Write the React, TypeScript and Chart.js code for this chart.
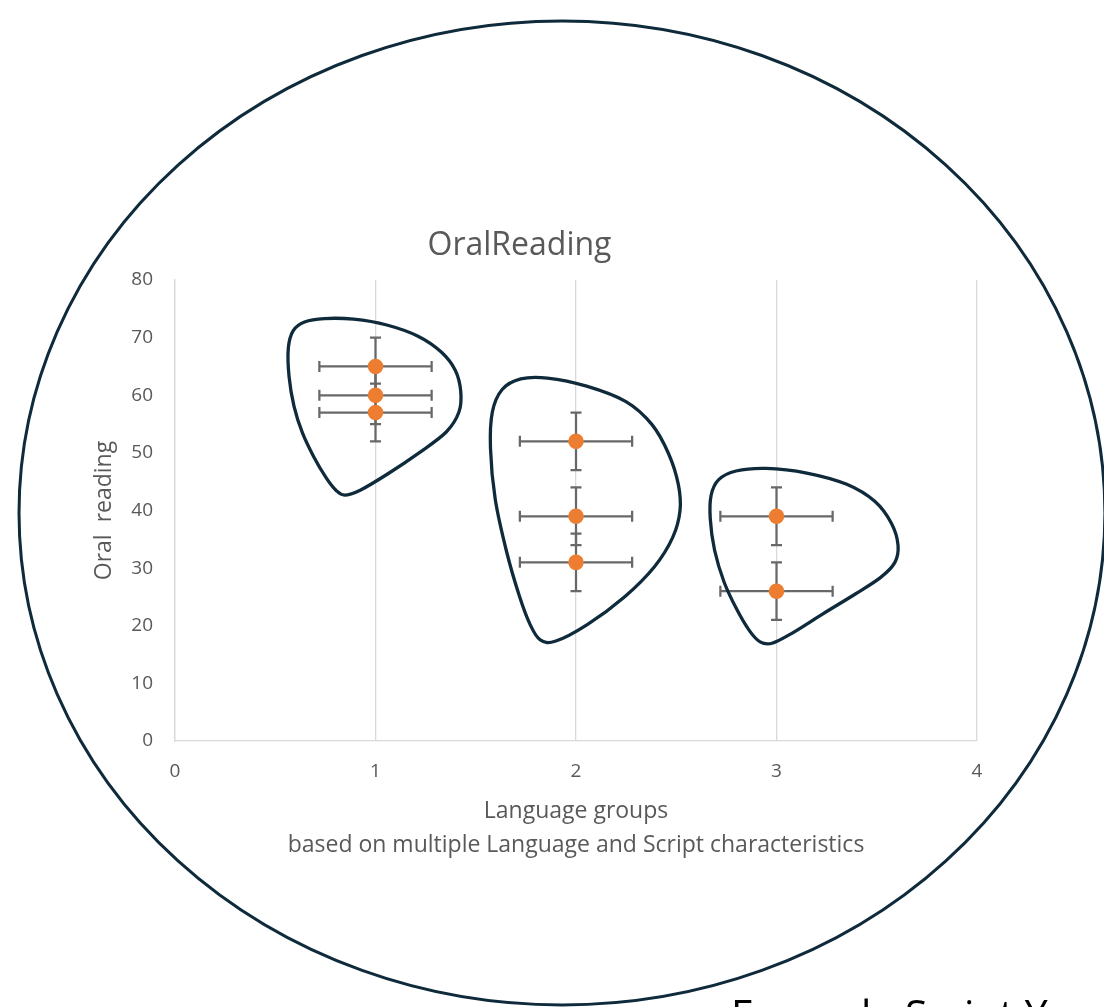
import { useEffect, useRef } from "react";
import { Chart, registerables } from "chart.js";

Chart.register(...registerables);

// ---- data ----
const groups = [1, 1, 1, 2, 2, 2, 3, 3];
const oralReading = [65, 60, 57, 52, 39, 31, 39, 26];
const xError = [0.28, 0.28, 0.28, 0.28, 0.28, 0.28, 0.28, 0.28];
const yError = [5, 5, 5, 5, 5, 5, 5, 5];

const chartTitle = "OralReading";
const xTitle = ["Language groups", "based on multiple Language and Script characteristics"];
const yTitle = "Oral  reading";
const noteText = "Example Script Y";

// annotation outlines (data units)
const blob1X = [0.565, 0.559, 0.584, 0.638, 0.733, 0.888, 1.057, 1.222, 1.337, 1.407, 1.431, 1.426, 1.372, 1.222, 1.057, 0.908, 0.838, 0.806, 0.757, 0.69, 0.632, 0.59];
const blob1Y = [63.22, 68.72, 71.5, 72.89, 73.41, 73.41, 72.37, 70.46, 67.51, 64.56, 60.56, 57.09, 53.62, 50.15, 46.16, 43.04, 42.34, 43.33, 45.29, 49.34, 53.4, 58.01];
const blob2X = [1.568, 1.575, 1.621, 1.721, 1.837, 2.053, 2.269, 2.386, 2.469, 2.519, 2.527, 2.494, 2.403, 2.253, 2.053, 1.869, 1.82, 1.771, 1.721, 1.654, 1.588];
const blob2Y = [51.66, 57.44, 61.48, 63.12, 63.34, 61.78, 59.18, 55.13, 49.93, 44.13, 40.09, 35.45, 30.25, 25.04, 19.83, 16.49, 17.23, 19.83, 24.47, 32.57, 41.82];
const blob3X = [2.665, 2.668, 2.702, 2.785, 2.934, 3.151, 3.367, 3.5, 3.583, 3.616, 3.6, 3.533, 3.4, 3.233, 3.067, 2.968, 2.918, 2.868, 2.802, 2.735, 2.685];
const blob3Y = [38.92, 42.98, 45.59, 47.03, 47.6, 46.73, 44.72, 41.82, 37.78, 33.72, 30.84, 28.51, 25.63, 22.16, 18.39, 16.49, 16.95, 18.69, 22.73, 27.37, 33.15];
const ringCenter = [1.93, 39.57];
const ringRadius = [2.708, 85.38];

const TEXT = "#595959";
const GRID = "#d9d9d9";
const INK = "#0e2a3b";
const FONT = "'Open Sans'";

function drawBlob(ctx: CanvasRenderingContext2D, xs: number[], ys: number[], sx: any, sy: any) {
  const raw = xs.map((x, i) => [sx.getPixelForValue(x), sy.getPixelForValue(ys[i])]);
  const n = raw.length;
  // light smoothing of the hand-traced outline
  const pts = raw.map((p, i) => {
    const a = raw[(i - 1 + n) % n];
    const b = raw[(i + 1) % n];
    return [0.2 * a[0] + 0.6 * p[0] + 0.2 * b[0], 0.2 * a[1] + 0.6 * p[1] + 0.2 * b[1]];
  });
  ctx.beginPath();
  ctx.moveTo(pts[0][0], pts[0][1]);
  for (let i = 0; i < n; i++) {
    const p0 = pts[(i - 1 + n) % n];
    const p1 = pts[i];
    const p2 = pts[(i + 1) % n];
    const p3 = pts[(i + 2) % n];
    const c1x = p1[0] + (p2[0] - p0[0]) / 6;
    const c1y = p1[1] + (p2[1] - p0[1]) / 6;
    const c2x = p2[0] - (p3[0] - p1[0]) / 6;
    const c2y = p2[1] - (p3[1] - p1[1]) / 6;
    ctx.bezierCurveTo(c1x, c1y, c2x, c2y, p2[0], p2[1]);
  }
  ctx.closePath();
  ctx.stroke();
}

const errorBarPlugin = {
  id: "errorBars",
  beforeDatasetsDraw(chart: any) {
    const { ctx } = chart;
    const sx = chart.scales.x;
    const sy = chart.scales.y;
    ctx.save();
    ctx.strokeStyle = "#686868";
    ctx.lineWidth = 2.25;
    const cap = 5.5;
    groups.forEach((g, i) => {
      const v = oralReading[i];
      const px = sx.getPixelForValue(g);
      const py = sy.getPixelForValue(v);
      const x0 = sx.getPixelForValue(g - xError[i]);
      const x1 = sx.getPixelForValue(g + xError[i]);
      const y0 = sy.getPixelForValue(v - yError[i]);
      const y1 = sy.getPixelForValue(v + yError[i]);
      ctx.beginPath();
      ctx.moveTo(x0, py); ctx.lineTo(x1, py);
      ctx.moveTo(x0, py - cap); ctx.lineTo(x0, py + cap);
      ctx.moveTo(x1, py - cap); ctx.lineTo(x1, py + cap);
      ctx.moveTo(px, y0); ctx.lineTo(px, y1);
      ctx.moveTo(px - cap, y0); ctx.lineTo(px + cap, y0);
      ctx.moveTo(px - cap, y1); ctx.lineTo(px + cap, y1);
      ctx.stroke();
    });
    ctx.restore();
  },
};

const decorPlugin = {
  id: "decor",
  afterDraw(chart: any) {
    const { ctx } = chart;
    const sx = chart.scales.x;
    const sy = chart.scales.y;
    ctx.save();
    ctx.strokeStyle = INK;
    ctx.lineJoin = "round";
    ctx.lineWidth = 3.3;
    drawBlob(ctx, blob1X, blob1Y, sx, sy);
    drawBlob(ctx, blob2X, blob2Y, sx, sy);
    drawBlob(ctx, blob3X, blob3Y, sx, sy);

    // big ring
    const cx = sx.getPixelForValue(ringCenter[0]);
    const cy = sy.getPixelForValue(ringCenter[1]);
    const rx = Math.abs(sx.getPixelForValue(ringCenter[0] + ringRadius[0]) - cx);
    const ry = Math.abs(sy.getPixelForValue(ringCenter[1] + ringRadius[1]) - cy);
    ctx.lineWidth = 3;
    ctx.beginPath();
    ctx.ellipse(cx, cy, rx, ry, 0, 0, Math.PI * 2);
    ctx.stroke();

    // chart title
    ctx.fillStyle = TEXT;
    ctx.font = `32px ${FONT}`;
    ctx.textAlign = "center";
    ctx.textBaseline = "middle";
    ctx.fillText(chartTitle, 519.5, 246);

    // note text at bottom
    ctx.fillStyle = "#000000";
    ctx.font = `41px ${FONT}`;
    ctx.textAlign = "left";
    ctx.textBaseline = "alphabetic";
    ctx.fillText(noteText, 731, 1029);
    ctx.restore();
  },
};

export default function App() {
  const ref = useRef<HTMLCanvasElement | null>(null);

  useEffect(() => {
    document.body.style.margin = "0";
    document.body.style.overflow = "hidden";
    const canvas = ref.current;
    if (!canvas) return;
    const chart = new Chart(canvas, {
      type: "scatter",
      data: {
        datasets: [
          {
            label: "OralReading",
            data: groups.map((g, i) => ({ x: g, y: oralReading[i] })),
            backgroundColor: "#ED7D31",
            borderColor: "#ED7D31",
            borderWidth: 0,
            pointRadius: 7.8,
            pointHoverRadius: 7.8,
          },
        ],
      },
      options: {
        animation: false,
        responsive: false,
        devicePixelRatio: 1,
        layout: { padding: { left: 93, right: 127, top: 280, bottom: 145 } },
        plugins: {
          legend: { display: false },
          title: { display: false },
          tooltip: { enabled: false },
        },
        scales: {
          x: {
            type: "linear",
            min: 0,
            max: 4,
            afterFit: (s: any) => { s.height = 121; },
            ticks: { stepSize: 1, color: TEXT, font: { family: FONT, size: 19 }, padding: 19 },
            grid: { color: GRID, lineWidth: 1.3, drawTicks: false },
            border: { display: true, color: GRID, width: 1.3 },
            title: {
              display: true,
              text: xTitle,
              color: TEXT,
              font: { family: FONT, size: 23, lineHeight: 34 / 23 },
              padding: { top: 0, bottom: 0 },
            },
          },
          y: {
            type: "linear",
            min: 0,
            max: 80,
            afterFit: (s: any) => { s.width = 82; },
            ticks: { stepSize: 10, color: TEXT, font: { family: FONT, size: 19 }, padding: 22 },
            grid: { display: false, drawTicks: false },
            border: { display: true, color: GRID, width: 1.3 },
            title: {
              display: true,
              text: yTitle,
              color: TEXT,
              font: { family: FONT, size: 23, lineHeight: 1.0 },
              padding: { top: 0, bottom: 0 },
            },
          },
        },
      },
      plugins: [errorBarPlugin, decorPlugin],
    } as any);
    return () => chart.destroy();
  }, []);

  return (
    <div style={{ width: 1104, height: 1007, position: "relative" }}>
      <canvas ref={ref} width={1104} height={1007} style={{ display: "block", width: 1104, height: 1007 }} />
    </div>
  );
}
